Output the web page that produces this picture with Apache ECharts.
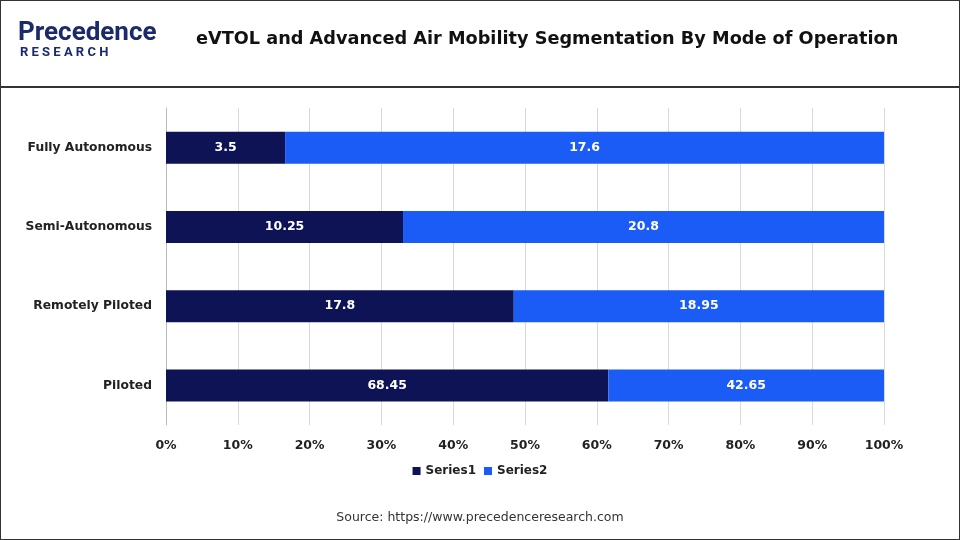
<!DOCTYPE html>
<html>
<head>
<meta charset="utf-8">
<script src="https://cdn.jsdelivr.net/npm/echarts@6/dist/echarts.min.js"></script>
<style>
body{margin:0;background:#fff;}
#frame{position:absolute;left:0;top:0;width:958px;height:538px;border:1px solid #333;}
#chart{position:absolute;left:0;top:0;width:960px;height:540px;}
</style>
</head>
<body>
<div id="frame"></div>
<div id="chart"></div>
<script>
var categories = ['Fully Autonomous','Semi-Autonomous','Remotely Piloted','Piloted'];
var series1 = [3.5, 10.25, 17.8, 68.45];
var series2 = [17.6, 20.8, 18.95, 42.65];

function pct(a, b, i){ return a[i] / (a[i] + b[i]) * 100; }
var share1 = series1.map(function(v,i){ return pct(series1, series2, i); });
var share2 = series2.map(function(v,i){ return pct(series2, series1, i); });

var chart = echarts.init(document.getElementById('chart'));
var option = {
	textStyle: {fontFamily: 'DejaVu Sans'},
	graphic: [
		{type:'text', left:18, top:20, style:{text:'Precedence', font:'bold 26px Roboto', fill:'#1a2a6c'}},
		{type:'text', left:20, top:46, style:{text:'R E S E A R C H', font:'bold 13px Roboto', fill:'#1a2a6c'}},
		{type:'text', left:196, top:30, style:{text:'eVTOL and Advanced Air Mobility Segmentation By Mode of Operation', font:'bold 17.7px "DejaVu Sans"', fill:'#111'}},
		{type:'rect', shape:{x:0, y:86, width:960, height:2}, style:{fill:'#333'}},
		{type:'text', left:'center', top:511, style:{text:'Source: https://www.precedenceresearch.com', font:'12.5px "DejaVu Sans"', fill:'#333'}}
	],
	legend: {
		bottom: 58, left: 'center', itemWidth: 8, itemHeight: 8, icon: 'rect',
		textStyle: {fontSize: 12, fontWeight: 'bold', color: '#222'},
		data: ['Series1','Series2']
	},
	grid: {left: 166, right: 76, top: 108, bottom: 115},
	xAxis: {
		type: 'value', min: 0, max: 100, interval: 10,
		axisLabel: {formatter: '{value}%', fontSize: 12.5, fontWeight: 'bold', color: '#222', margin: 14},
		splitLine: {lineStyle: {color: '#d9d9d9'}},
		axisLine: {show: false}
	},
	yAxis: {
		type: 'category', inverse: true, data: categories,
		axisLabel: {fontSize: 12.3, fontWeight: 'bold', color: '#222', margin: 14},
		axisTick: {show: false},
		axisLine: {lineStyle: {color: '#bbb'}}
	},
	series: [
		{
			name: 'Series1', type: 'bar', stack: 'a', barWidth: 32, data: share1,
			itemStyle: {color: '#0d1354'},
			label: {show: true, color: '#fff', fontWeight: 'bold', fontSize: 12.5,
				formatter: function(p){ return series1[p.dataIndex]; }}
		},
		{
			name: 'Series2', type: 'bar', stack: 'a', barWidth: 32, data: share2,
			itemStyle: {color: '#1a5cf5'},
			label: {show: true, color: '#fff', fontWeight: 'bold', fontSize: 12.5,
				formatter: function(p){ return series2[p.dataIndex]; }}
		}
	]
};
chart.setOption(option);
</script>
</body>
</html>
